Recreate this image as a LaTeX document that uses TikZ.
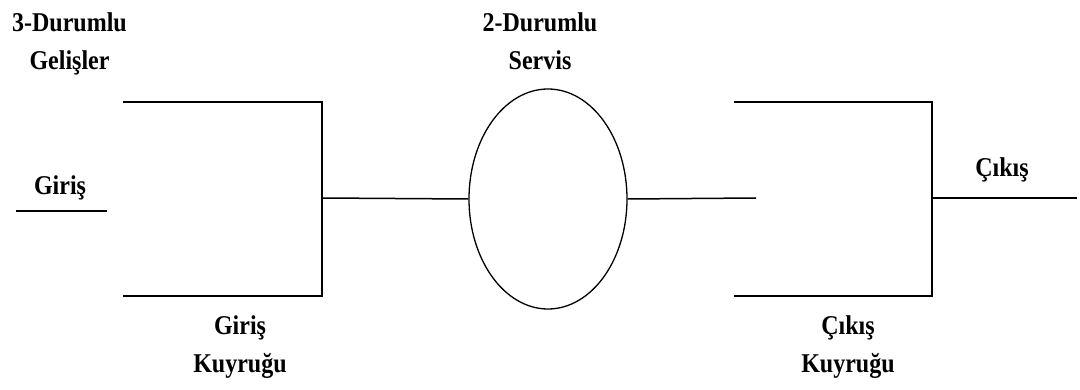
\documentclass[tikz,border=0pt]{standalone}
\usepackage{fontspec}
\setmainfont{Liberation Serif}
\usetikzlibrary{shapes.geometric}
\tikzset{
    lbl/.style={font=\fontsize{24}{34.5}\selectfont\bfseries, align=center, anchor=base, inner sep=0pt, yscale=1.13, transform shape},
    queue/.style={line width=1.7pt, line join=miter},
    link/.style={line width=1.5pt},
    server/.style={draw, ellipse, line width=1.3pt, minimum width=158pt, minimum height=220pt, inner sep=0pt}
}

\begin{document}
\begin{tikzpicture}[x=1pt, y=-1pt]
    \useasboundingbox (0,0) rectangle (1080,390);

    % Labels (base = last line)
    \node[lbl] (arrLbl) at (69.5,70) {3-Durumlu\\Gelişler};
    \node[lbl] (inLbl) at (60,195) {Giriş};
    \node[lbl] (inqLbl) at (240,373) {Giriş\\Kuyruğu};
    \node[lbl] (srvLbl) at (540,70) {2-Durumlu\\Servis};
    \node[lbl] (outqLbl) at (848,373) {Çıkış\\Kuyruğu};
    \node[lbl] (outLbl) at (1002,177) {Çıkış};

    % Input line
    \coordinate (inStart) at (16,211);
    \coordinate (inEnd) at (107,211);
    \draw[link] (inStart) -- (inEnd);

    % Input queue
    \coordinate (inqTL) at (123,102);
    \coordinate (inqTR) at (322,102);
    \coordinate (inqBR) at (322,296);
    \coordinate (inqBL) at (123,296);
    \coordinate (inqMid) at (322,198);
    \draw[queue] (inqTL) -- (inqTR) -- (inqBR) -- (inqBL);

    % Server
    \node[server] (srv) at (548,199) {};
    \draw[link] (inqMid) -- (srv.west);
    \coordinate (srvEnd) at (756,198);
    \draw[link] (srv.east) -- (srvEnd);

    % Output queue
    \coordinate (outqTL) at (734,102);
    \coordinate (outqTR) at (932,102);
    \coordinate (outqBR) at (932,296);
    \coordinate (outqBL) at (734,296);
    \coordinate (outqMid) at (932,198);
    \draw[queue] (outqTL) -- (outqTR) -- (outqBR) -- (outqBL);

    % Output line
    \coordinate (outEnd) at (1077,198);
    \draw[link] (outqMid) -- (outEnd);
\end{tikzpicture}
\end{document}
